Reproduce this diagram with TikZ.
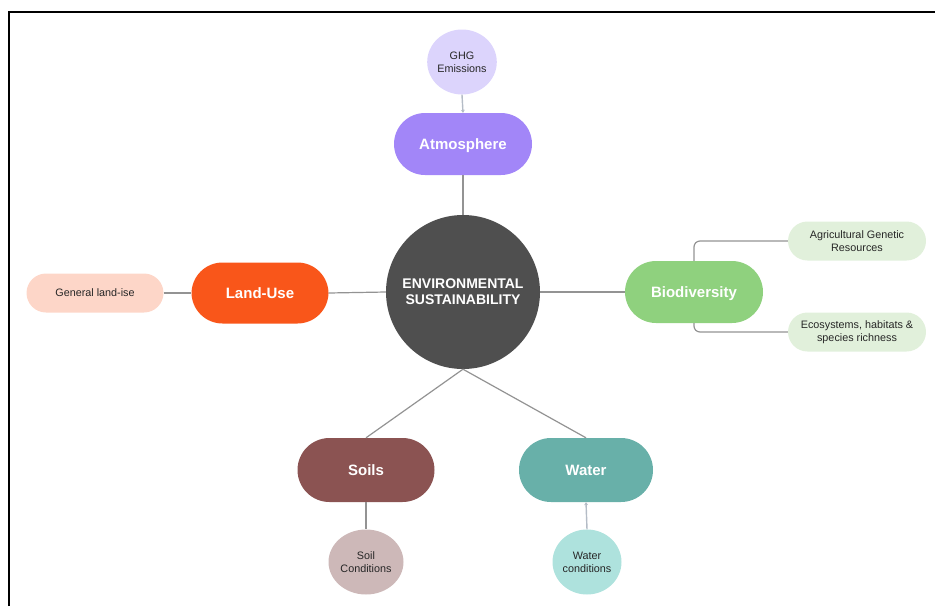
\documentclass[tikz,border=0pt]{standalone}
\usepackage{fontspec}
\setmainfont{Liberation Sans}
\usetikzlibrary{arrows.meta,shapes.geometric}
\definecolor{cAtm}{HTML}{A286F8}
\definecolor{cGHG}{HTML}{DCD4FC}
\definecolor{cCore}{HTML}{4F4F4F}
\definecolor{cLand}{HTML}{F9561A}
\definecolor{cGen}{HTML}{FDD6C8}
\definecolor{cBio}{HTML}{8FD17E}
\definecolor{cBioSub}{HTML}{E1F0DB}
\definecolor{cSoil}{HTML}{8B5352}
\definecolor{cSoilSub}{HTML}{CDB8B8}
\definecolor{cWater}{HTML}{68B0A9}
\definecolor{cWaterSub}{HTML}{AEE2DD}
\definecolor{lineGray}{HTML}{939393}
\definecolor{lineLight}{HTML}{B4BCC6}
\tikzset{
  mainpill/.style={fill=#1, rounded corners=31pt, minimum width=138pt, minimum height=62pt, inner sep=0pt, text height=10.8pt, text depth=0pt, text=white, font=\bfseries\fontsize{15}{17}\selectfont},
  subpill/.style={fill=#1, rounded corners=19.5pt, minimum width=138pt, minimum height=39pt, inner sep=0pt, align=center, text=black!85, font=\fontsize{10.8}{13}\selectfont},
  subcirc/.style={fill=#1, ellipse, inner sep=0pt, align=center, text=black!85, font=\fontsize{10.8}{13}\selectfont},
  conn/.style={draw=lineGray, line width=1.2pt},
  connlight/.style={draw=lineLight, line width=1.4pt, -{Stealth[length=3pt,width=4pt]}}
}
\begin{document}
\begin{tikzpicture}[x=1pt,y=-1pt]
\useasboundingbox (0,0) rectangle (935,606);
\draw[line width=2pt] (8.5,606) -- (8.5,12) -- (935,12);

\node[circle, fill=cCore, minimum size=154pt, inner sep=0pt, text=white, align=center, font=\bfseries\fontsize{14}{16}\selectfont] (core) at (463,292) {ENVIRONMENTAL\\SUSTAINABILITY};

\node[mainpill=cAtm] (atm) at (463,144) {Atmosphere};
\node[subcirc=cGHG, minimum width=65pt, minimum height=65pt] (ghg) at (462,62) {GHG\\Emissions};

\node[mainpill=cLand, minimum width=137pt, minimum height=61pt] (land) at (260,293) {Land-Use};
\node[subpill=cGen, minimum width=137pt] (gen) at (95,293) {General land-ise};

\node[mainpill=cBio] (bio) at (694,292) {Biodiversity};
\node[subpill=cBioSub] (agr) at (857,241) {Agricultural Genetic\\Resources};
\node[subpill=cBioSub] (eco) at (857,332) {Ecosystems, habitats \&\\species richness};

\node[mainpill=cSoil, minimum width=137pt, minimum height=64pt, rounded corners=32pt] (soil) at (366,470) {Soils};
\node[mainpill=cWater, minimum width=134pt, minimum height=64pt, rounded corners=32pt] (water) at (586,470) {Water};
\node[subcirc=cSoilSub, minimum width=75pt, minimum height=65pt] (soilc) at (366,562) {Soil\\Conditions};
\node[subcirc=cWaterSub, minimum width=69pt, minimum height=65pt] (waterc) at (587,562) {Water\\conditions};

\draw[connlight] (ghg.south) -- (atm.north);
\draw[conn] (atm.south) -- (core.north);
\draw[conn] (gen.east) -- (land.west);
\draw[conn] (land.east) -- (core.west);
\draw[conn] (core.east) -- (bio.west);
\draw[conn, rounded corners=6pt] (bio.north) |- (agr.west);
\draw[conn, rounded corners=6pt] (bio.south) |- (eco.west);
\draw[conn] (core.south) -- (soil.north);
\draw[conn] (core.south) -- (water.north);
\draw[conn] (soil.south) -- (soilc.north);
\draw[connlight] (waterc.north) -- (water.south);
\end{tikzpicture}
\end{document}
